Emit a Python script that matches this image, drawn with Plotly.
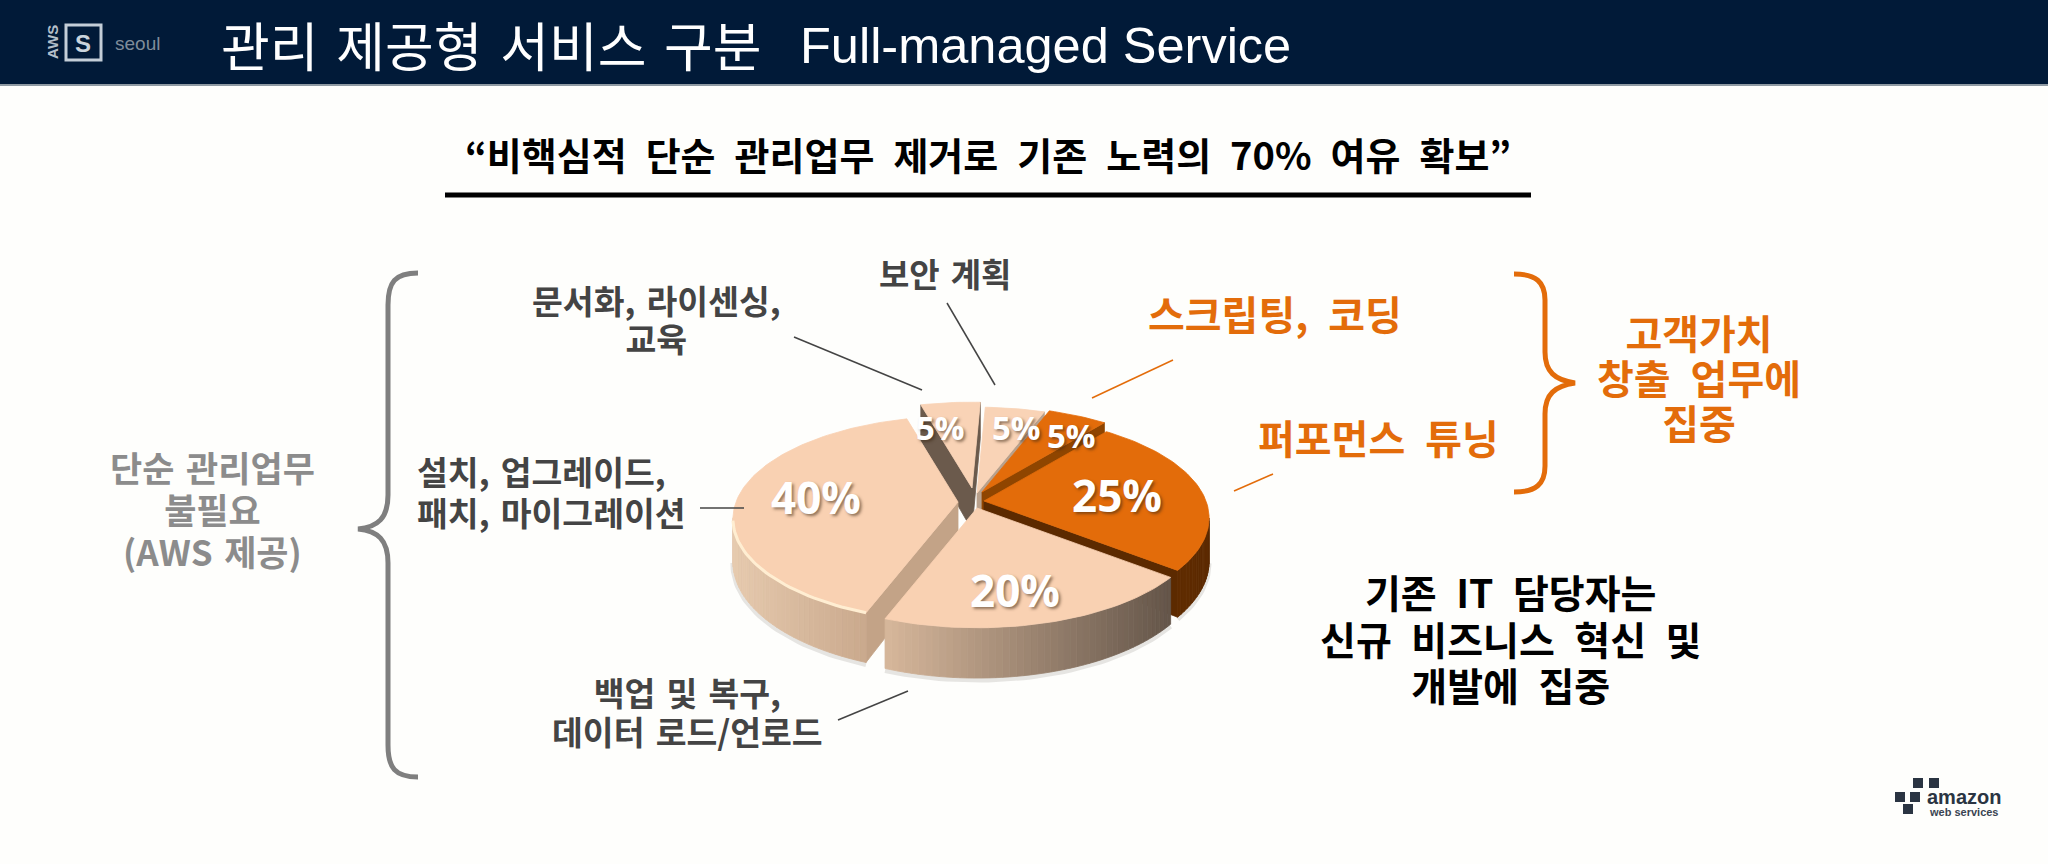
import numpy as np
import plotly.graph_objects as go

# %% data
categories = ['보안 계획', '스크립팅, 코딩', '퍼포먼스 튜닝', '백업 및 복구, 데이터 로드/언로드',
              '설치, 업그레이드, 패치, 마이그레이션', '문서화, 라이센싱, 교육']
shares = [5, 5, 25, 20, 40, 5]

# %% pie styling, same order as categories
center = (975, 495)
rx, ry, persp, depth, rotation = 222, 100, 0.165, 42, 2.5
explode = [(2, -2), (7, -3), (9, 6), (2, 13), (-17, 7), (-3, -7)]
top_color = ['#f9d3b6', '#e36c0a', '#e36c0a', '#f9d1b2', '#f9d1b2', '#f9d3b6']
cut_color = ['#b9a18c', '#8f4500', '#5c2a00', '#c8ab90', '#c3a387', '#6b5a4c']
wall_left = ['#b9a18c', '#8f4500', '#6a3200', '#d8b89c', '#e6caae', '#6b5a4c']
wall_right = ['#b9a18c', '#8f4500', '#5c2a00', '#65564a', '#c2a084', '#6b5a4c']
draw_order = [0, 5, 1, 2, 4, 3]
label_pos = [(1016, 427), (1071, 435), (1117, 495), (1015, 590), (816, 497), (940, 427)]
label_size = [33, 33, 44, 44, 44, 33]

FONT = 'Noto Sans CJK KR'
NAVY = '#011a38'
ORANGE = '#e36c0a'
DARK = '#444444'
GREY = '#8c8c8c'


def project(angle_deg, ox, oy, drop=0.0):
    # angle clockwise from 12 o'clock, flat disc seen in perspective
    a = np.radians(angle_deg + rotation)
    u, v = np.sin(a), np.cos(a)
    s = 1 / (1 + persp * v)
    return ox + rx * u * s, oy - ry * v * s + drop * s


def mix(c1, c2, t):
    a = [int(c1[i:i + 2], 16) for i in (1, 3, 5)]
    b = [int(c2[i:i + 2], 16) for i in (1, 3, 5)]
    return 'rgb(%d,%d,%d)' % tuple(round(p + (q - p) * t) for p, q in zip(a, b))


def poly(xs, ys, color):
    return go.Scatter(x=xs, y=ys, mode='lines', fill='toself', fillcolor=color,
                      line=dict(color=color, width=0.8), hoverinfo='skip', showlegend=False)


fig = go.Figure()

# start angle of every slice comes from the shares
starts = 3.6 * np.concatenate([[0], np.cumsum(shares)[:-1]])
ends = starts + 3.6 * np.array(shares)

for i in draw_order:
    ox, oy = center[0] + explode[i][0], center[1] + explode[i][1]
    angles = np.linspace(starts[i], ends[i], max(int(shares[i] * 3.6 / 1.5), 4))
    arc = [project(a, ox, oy) for a in angles]
    arc_low = [project(a, ox, oy, depth) for a in angles]
    ax, ay = ox, oy
    ax2, ay2 = ox, oy + depth

    # soft shadow under the wall
    front = [k for k in range(len(arc) - 1) if arc[k + 1][0] < arc[k][0]]
    if front:
        fig.add_trace(go.Scatter(x=[arc_low[k][0] for k in front] + [arc_low[front[-1] + 1][0]],
                                 y=[arc_low[k][1] + 2 for k in front] + [arc_low[front[-1] + 1][1] + 2],
                                 mode='lines', line=dict(color='rgba(60,50,40,0.12)', width=5),
                                 hoverinfo='skip', showlegend=False))

    # side walls, only the ones that face the viewer (outline is clockwise)
    if arc[0][0] < ax:
        fig.add_trace(poly([ax, arc[0][0], arc_low[0][0], ax2, ax],
                           [ay, arc[0][1], arc_low[0][1], ay2, ay], cut_color[i]))
    if ax < arc[-1][0]:
        fig.add_trace(poly([arc[-1][0], ax, ax2, arc_low[-1][0], arc[-1][0]],
                           [arc[-1][1], ay, ay2, arc_low[-1][1], arc[-1][1]], cut_color[i]))

    # outer wall as small quads for the gradient
    xs_all = [p[0] for p in arc]
    span = max(max(xs_all) - min(xs_all), 1)
    for k in front:
        t = (arc[k][0] - min(xs_all)) / span
        col = mix(wall_left[i], wall_right[i], t)
        fig.add_trace(poly([arc[k][0], arc[k + 1][0], arc_low[k + 1][0], arc_low[k][0], arc[k][0]],
                           [arc[k][1], arc[k + 1][1], arc_low[k + 1][1], arc_low[k][1], arc[k][1]], col))

    # top face
    fig.add_trace(poly([ax] + [p[0] for p in arc] + [ax], [ay] + [p[1] for p in arc] + [ay], top_color[i]))

    # bevel highlight along the front edge of the big slice
    if shares[i] == 40:
        fig.add_trace(go.Scatter(x=[arc[k][0] for k in front], y=[arc[k][1] for k in front], mode='lines',
                                 line=dict(color='#ffeed2', width=3), hoverinfo='skip', showlegend=False))

annotations = []


def text(s, x, y, size, color=DARK, weight=700, family=FONT, anchor='center', shadow=None, angle=0, gap='\u2002'):
    # wider word gaps, like the slide font
    annotations.append(dict(text=s.replace(' ', gap) if family == FONT else s,
                            x=x, y=y, xref='x', yref='y', showarrow=False, xanchor=anchor,
                            yanchor='middle', textangle=angle,
                            font=dict(family=family, size=size, color=color, weight=weight,
                                      shadow=shadow or 'none')))


def block(lines, x, y, size, pitch, color=DARK, anchor='center', gap='\u2002'):
    # line pitch follows the annotation font, glyph size the inner span
    body = '<br>'.join('<span style="font-size:%gpx">%s</span>' % (size, s.replace(' ', gap)) for s in lines)
    annotations.append(dict(text=body, x=x, y=y, xref='x', yref='y', showarrow=False, xanchor=anchor,
                            yanchor='middle', align=anchor,
                            font=dict(family=FONT, size=pitch / 1.3, color=color, weight=700)))


# header
text('관리 제공형 서비스 구분', 219, 44, 53, '#ffffff', 400, anchor='left', gap='\u2004')
text('Full-managed Service', 798, 45, 50.5, '#ffffff', 400, 'Liberation Sans', 'left')
text('S', 83, 43, 24, '#c9d3dc', 700, 'Liberation Sans')
text('AWS', 52, 42, 15, '#b4bfca', 700, 'Liberation Sans', angle=-90)
text('seoul', 113, 43, 19, '#7f8c9a', 400, 'Liberation Sans', 'left')

# subtitle
text('“비핵심적 단순 관리업무 제거로 기존 노력의 70% 여유 확보”', 988, 153, 38, '#000000', 700)

# left and middle labels
block(['단순 관리업무', '불필요', '(AWS 제공)'], 212, 508, 35, 42, GREY, gap='\u2004')
block(['문서화, 라이센싱,', '교육'], 656, 318, 33.5, 38, gap='\u2004')
text('보안 계획', 945, 273, 33, DARK, gap='\u2004')
block(['설치, 업그레이드,', '패치, 마이그레이션'], 415, 491, 33.5, 41, anchor='left', gap='\u2004')
block(['백업 및 복구,', '데이터 로드/언로드'], 687, 711, 33.5, 39, gap='\u2004')

# right labels
text('스크립팅, 코딩', 1275, 313, 40, ORANGE)
text('퍼포먼스 튜닝', 1378, 437, 40, ORANGE)
block(['고객가치', '창출 업무에', '집중'], 1699, 377, 40, 45, ORANGE)
block(['기존 IT 담당자는', '신규 비즈니스 혁신 및', '개발에 집중'], 1510, 637, 39, 46.5, '#000000')

# slice percentages
for v, p, sz in zip(shares, label_pos, label_size):
    text(f'{v}%', p[0], p[1], sz, '#ffffff', 700, 'Open Sans', shadow='2px 2px 3px rgba(60,40,20,0.55)')

# amazon logo
text('amazon', 1964, 797, 20, '#2a3442', 700, 'Liberation Sans')
text('web services', 1964, 812, 11, '#3a4452', 700, 'Liberation Sans')

shapes = [
    dict(type='rect', xref='x', yref='y', x0=0, x1=2048, y0=0, y1=84, fillcolor=NAVY, line_width=0, layer='below'),
    dict(type='line', xref='x', yref='y', x0=0, x1=2048, y0=85, y1=85, line=dict(color='#8f9aa3', width=2)),
    dict(type='rect', xref='x', yref='y', x0=66, x1=101, y0=25, y1=60, line=dict(color='#c4ced8', width=3)),
    # subtitle rule
    dict(type='line', xref='x', yref='y', x0=445, x1=1531, y0=195, y1=195, line=dict(color='#000000', width=5)),
    # braces
    dict(type='path', xref='x', yref='y', line=dict(color='#7f7f7f', width=5),
         path='M 418 273 C 395 273 388 282 388 305 L 388 495 C 388 518 378 527 358 529 '
              'C 378 531 388 540 388 563 L 388 745 C 388 768 395 777 418 777'),
    dict(type='path', xref='x', yref='y', line=dict(color=ORANGE, width=5),
         path='M 1514 274 C 1536 274 1545 282 1545 300 L 1545 352 C 1545 372 1555 380 1575 383 '
              'C 1555 386 1545 394 1545 414 L 1545 466 C 1545 484 1536 492 1514 492'),
]

# leader lines
for x0, y0, x1, y1, col in [(794, 337, 922, 390, DARK), (947, 303, 995, 385, DARK),
                            (1173, 360, 1092, 398, ORANGE), (1273, 474, 1234, 491, ORANGE),
                            (700, 508, 744, 508, DARK), (908, 691, 838, 720, DARK)]:
    shapes.append(dict(type='line', xref='x', yref='y', x0=x0, y0=y0, x1=x1, y1=y1,
                       line=dict(color=col, width=1.5)))

# amazon cubes
for cx, cy in [(1918, 783), (1934, 783), (1900, 797), (1915, 797), (1908, 809)]:
    shapes.append(dict(type='rect', xref='x', yref='y', x0=cx - 5, x1=cx + 5, y0=cy - 5, y1=cy + 5,
                       fillcolor='#2a3442', line_width=0))

fig.update_layout(width=2048, height=864, margin=dict(l=0, r=0, t=0, b=0),
                  paper_bgcolor='#fefefc', plot_bgcolor='#fefefc',
                  xaxis=dict(range=[0, 2048], visible=False, fixedrange=True),
                  yaxis=dict(range=[864, 0], visible=False, fixedrange=True),
                  showlegend=False, shapes=shapes, annotations=annotations)

fig.write_html('out.html', config={'displayModeBar': False}, post_script="document.body.style.margin='0';")
